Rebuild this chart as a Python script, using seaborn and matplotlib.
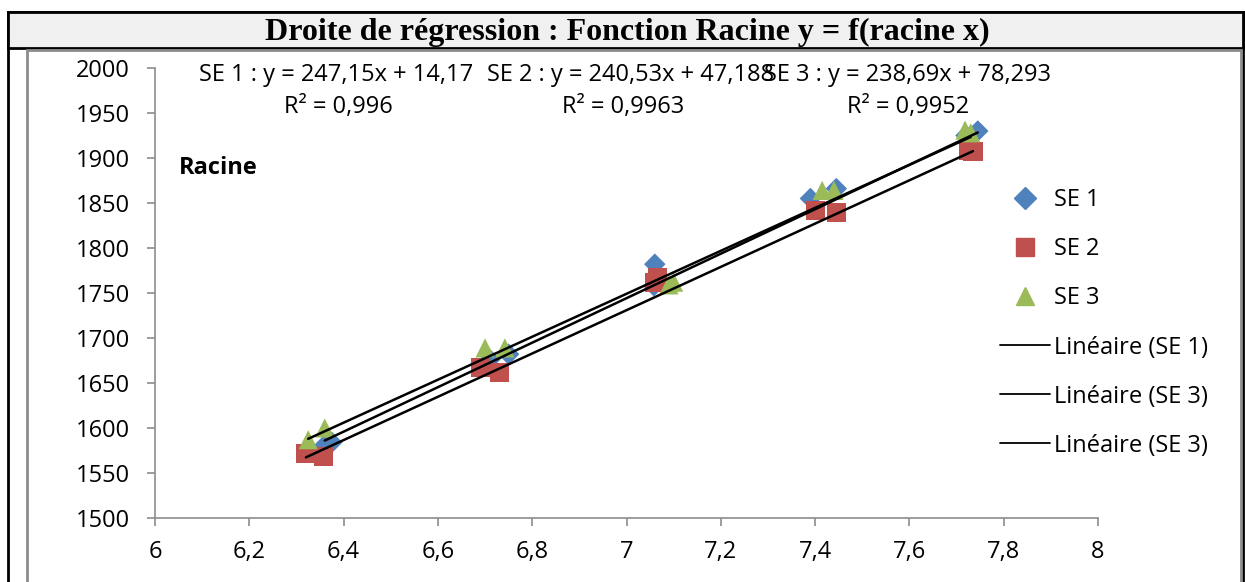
import numpy as np
import pandas as pd
import matplotlib
matplotlib.use("Agg")
import matplotlib.pyplot as plt
from matplotlib.patches import Rectangle
from matplotlib.lines import Line2D
from matplotlib.ticker import FixedLocator, FuncFormatter
import seaborn as sns

# ---------------------------------------------------------------
# Data (racine x, y)
# ---------------------------------------------------------------
series_names = ['SE 1', 'SE 2', 'SE 3']

se1_x = [6.36, 6.375, 6.71, 6.75, 7.058, 7.06, 7.39, 7.445, 7.72, 7.745]
se1_y = [1581, 1584, 1676, 1682, 1758, 1782, 1855, 1866, 1925, 1930]

se2_x = [6.32, 6.357, 6.69, 6.73, 7.06, 7.065, 7.40, 7.445, 7.725, 7.735]
se2_y = [1572, 1568, 1667, 1662, 1762, 1767, 1842, 1839, 1908, 1907]

se3_x = [6.325, 6.36, 6.70, 6.742, 7.09, 7.10, 7.415, 7.44, 7.718, 7.73]
se3_y = [1587, 1600, 1689, 1689, 1759, 1762, 1864, 1864, 1931, 1928]

# trend line coefficients shown on the chart
slopes = [247.15, 240.53, 238.69]
intercepts = [14.17, 47.188, 78.293]
eq_labels = ['SE 1 : y = 247,15x + 14,17', 'SE 2 : y = 240,53x + 47,188', 'SE 3 : y = 238,69x + 78,293']
r2_labels = ['R² = 0,996', 'R² = 0,9963', 'R² = 0,9952']
line_labels = ['Linéaire (SE 1)', 'Linéaire (SE 3)', 'Linéaire (SE 3)']

x_ticks = [6, 6.2, 6.4, 6.6, 6.8, 7, 7.2, 7.4, 7.6, 7.8, 8]
y_ticks = [1500, 1550, 1600, 1650, 1700, 1750, 1800, 1850, 1900, 1950, 2000]

title = 'Droite de régression : Fonction Racine y = f(racine x)'

colors = {'SE 1': '#4F81BD', 'SE 2': '#C0504D', 'SE 3': '#9BBB59'}
markers = {'SE 1': 'D', 'SE 2': 's', 'SE 3': '^'}
sizes = {'SE 1': 120, 'SE 2': 190, 'SE 3': 190}

df = pd.concat([
    pd.DataFrame({'x': se1_x, 'y': se1_y, 'serie': 'SE 1'}),
    pd.DataFrame({'x': se2_x, 'y': se2_y, 'serie': 'SE 2'}),
    pd.DataFrame({'x': se3_x, 'y': se3_y, 'serie': 'SE 3'}),
], ignore_index=True)

sns.set_style('white')
plt.rcParams['font.family'] = ['Open Sans', 'DejaVu Sans']
plt.rcParams['text.color'] = 'black'

FS = 17

W, H = 1245, 582
fig = plt.figure(figsize=(W / 100, H / 100), dpi=100)

# frames: outer black box, grey title band, inner grey chart frame
fig.patches.append(Rectangle((8 / W, -0.01), (1243 - 8) / W, (H - 12) / H + 0.01, transform=fig.transFigure,
                             facecolor='white', edgecolor='black', lw=2, zorder=-3))
fig.patches.append(Rectangle((8 / W, 1 - 48 / H), (1243 - 8) / W, 36 / H, transform=fig.transFigure,
                             facecolor='#f0f0f0', edgecolor='black', lw=2, zorder=-2))
fig.patches.append(Rectangle((27 / W, -0.01), (1241 - 27) / W, (H - 50) / H + 0.01, transform=fig.transFigure,
                             facecolor='white', edgecolor='#8c8c8c', lw=2, zorder=-1))

fig.text(627 / W, 1 - 32 / H, title, ha='center', va='center', fontsize=23, fontweight='bold',
         family=['Liberation Serif', 'DejaVu Serif'])

ax = fig.add_axes([155 / W, 1 - 518 / H, (1098 - 155) / W, (518 - 68) / H])
ax.set_facecolor('none')

for i, name in enumerate(series_names):
    sub = df[df['serie'] == name]
    sns.scatterplot(data=sub, x='x', y='y', color=colors[name], marker=markers[name],
                    s=sizes[name], edgecolor='none', ax=ax, zorder=3, legend=False)

xs_all = [se1_x, se2_x, se3_x]
for i in range(3):
    xx = np.array([min(xs_all[i]), max(xs_all[i])])
    ax.plot(xx, slopes[i] * xx + intercepts[i], color='black', lw=1.8, zorder=4)

ax.set_xlim(6, 8)
ax.set_ylim(1500, 2000)
ax.xaxis.set_major_locator(FixedLocator(x_ticks))
ax.yaxis.set_major_locator(FixedLocator(y_ticks))
ax.xaxis.set_major_formatter(FuncFormatter(lambda v, p: ('%g' % v).replace('.', ',')))
ax.set_xlabel('')
ax.set_ylabel('')
for s in ['top', 'right']:
    ax.spines[s].set_visible(False)
for s in ['left', 'bottom']:
    ax.spines[s].set_color('#8c8c8c')
    ax.spines[s].set_linewidth(1.2)
ax.tick_params(axis='both', direction='out', length=6, width=1.2, color='#8c8c8c',
               labelsize=FS, labelcolor='black')
ax.tick_params(axis='x', pad=10)
ax.tick_params(axis='y', pad=12)
ax.tick_params(left=True, bottom=True)

# equation labels
eq_pos = [(6.385, 1992), (7.008, 1992), (7.597, 1992)]
r2_pos = [(6.388, 1957), (6.992, 1957), (7.597, 1957)]
for i in range(3):
    ax.text(eq_pos[i][0], eq_pos[i][1], eq_labels[i], ha='center', va='center', fontsize=FS)
    ax.text(r2_pos[i][0], r2_pos[i][1], r2_labels[i], ha='center', va='center', fontsize=FS)

ax.text(6.05, 1889, 'Racine', ha='left', va='center', fontsize=FS, fontweight='bold')

handles = [Line2D([], [], ls='none', marker=markers[n], color=colors[n],
                  markersize=11 if n == 'SE 1' else 13) for n in series_names]
handles += [Line2D([], [], color='black', lw=1.3) for _ in line_labels]
labels = series_names + line_labels
fig.legend(handles, labels, loc='center left', bbox_to_anchor=(1000 / W, 1 - 323 / H),
           frameon=False, fontsize=FS, handlelength=2.1, handletextpad=0.17,
           labelspacing=1.06, borderpad=0, borderaxespad=0)

fig.savefig('out.png', dpi=100)
